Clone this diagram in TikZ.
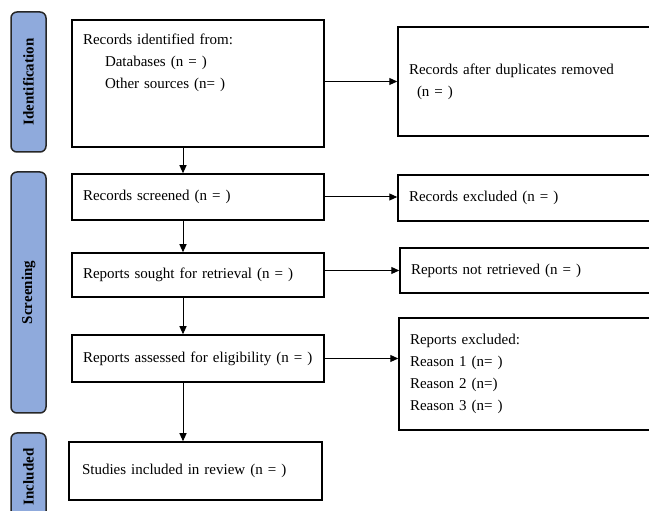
\documentclass[tikz,border=0pt]{standalone}
\usepackage{fontspec}
\setmainfont{Liberation Serif}
\usetikzlibrary{arrows.meta}
\definecolor{phaseblue}{RGB}{143,170,220}

\begin{document}
\begin{tikzpicture}[x=1pt,y=1pt,
  box/.style={draw,line width=1.5pt,rectangle,inner xsep=11pt,inner ysep=0pt,align=left,font=\fontsize{15}{22}\selectfont},
  main/.style={box,text width=230pt},
  side/.style={box,text width=240pt},
  phase/.style={draw=black!85,line width=1.5pt,fill=phaseblue,rounded corners=6pt,rotate=90,minimum height=35pt,inner sep=0pt,font=\bfseries\fontsize{15}{16}\selectfont},
  arr/.style={line width=1pt,-{Triangle[length=8pt,width=7pt]}}]
  \clip (0,0) rectangle (649,511);
  \node[phase,minimum width=140pt] (pident) at (28.5,429) {Identification};
  \node[phase,minimum width=241pt] (pscreen) at (28.5,218.5) {Screening};
  \node[phase,minimum width=88pt] (pincl) at (28.5,34) {Included};
  \node[main,minimum height=127pt] (ident) at (198,427.5) {Records identified from:\\ \hspace*{22pt}Databases (n = )\\ \hspace*{22pt}Other sources (n= )\\ \mbox{}\\ \mbox{}};
  \node[main,minimum height=46pt] (screened) at (198,314) {Records screened (n = )};
  \node[main,minimum height=44pt] (sought) at (198,236) {Reports sought for retrieval (n = )};
  \node[main,minimum height=47pt] (assessed) at (198,152.5) {Reports assessed for eligibility (n = )};
  \node[main,minimum height=58pt,inner xsep=13pt,text width=227pt] (included) at (195.5,40) {Studies included in review (n = )};
  \node[side,minimum height=109pt] (dup) at (529,429.5) {Records after duplicates removed\\ \hspace*{8pt}(n = )};
  \node[side,minimum height=46pt] (excl) at (529,313) {Records excluded (n = )};
  \node[side,minimum height=45pt] (notret) at (531,240.5) {Reports not retrieved (n = )};
  \node[side,minimum height=112pt] (rexcl) at (530,137) {Reports excluded:\\ Reason 1 (n= )\\ Reason 2 (n=)\\ Reason 3 (n= )};
  \draw[arr] ([xshift=-15pt]ident.south) -- ([xshift=-15pt]ident.south |- screened.north);
  \draw[arr] ([xshift=-15pt]screened.south) -- ([xshift=-15pt]screened.south |- sought.north);
  \draw[arr] ([xshift=-15pt]sought.south) -- ([xshift=-15pt]sought.south |- assessed.north);
  \draw[arr] ([xshift=-15pt]assessed.south) -- ([xshift=-15pt]assessed.south |- included.north);
  \draw[arr] (ident.east |- dup.west) -- (dup.west);
  \draw[arr] (screened.east) -- (screened.east -| excl.west);
  \draw[arr] (sought.east |- notret.west) -- (notret.west);
  \draw[arr] (assessed.east) -- (assessed.east -| rexcl.west);
\end{tikzpicture}
\end{document}
